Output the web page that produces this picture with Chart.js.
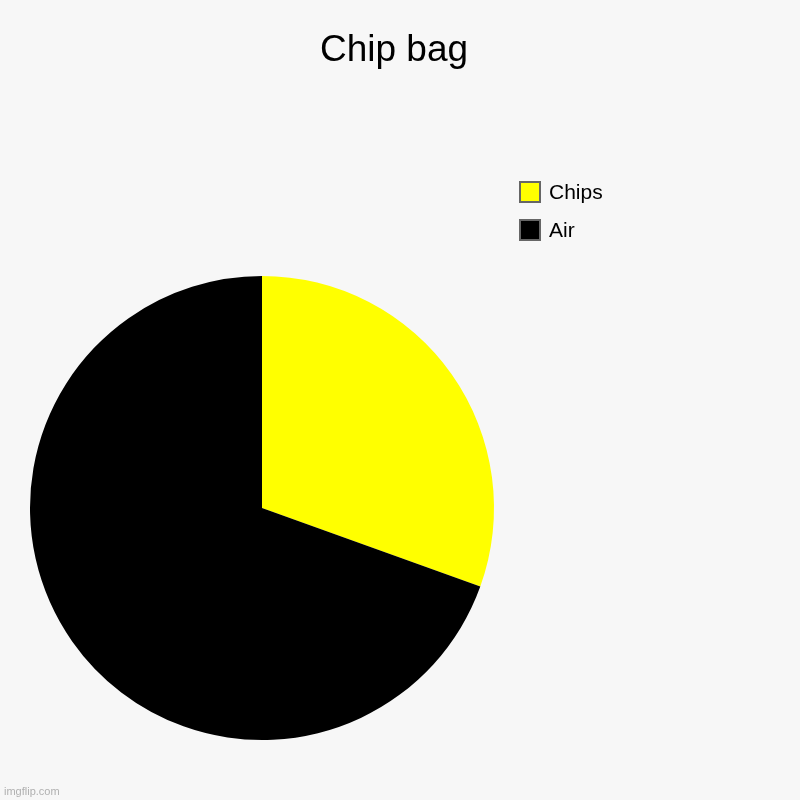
<!DOCTYPE html>
<html>
<head>
<meta charset="utf-8">
<script src="https://cdn.jsdelivr.net/npm/chart.js@4/dist/chart.umd.min.js"></script>
<style>
  html, body { margin: 0; padding: 0; background: #f7f7f7; }
  #wrap { width: 800px; height: 800px; position: relative; }
</style>
</head>
<body>
<div id="wrap"><canvas id="pieCanvas" width="800" height="800"></canvas></div>
<script>
// chart data
var TITLE = 'Chip bag'
var LABELS = ['Chips', 'Air']
var VALUES = [30.5, 69.5]
var COLORS = ['#ffff00', '#000000']

// title, legend and watermark drawn on the same canvas
var decorations = {
  id: 'decorations',
  beforeDraw: function (chart) {
    var ctx = chart.ctx
    ctx.save()
    ctx.fillStyle = '#f7f7f7'
    ctx.fillRect(0, 0, chart.width, chart.height)
    ctx.restore()
  },
  afterDraw: function (chart) {
    var ctx = chart.ctx
    ctx.save()
    ctx.fillStyle = '#000'
    ctx.textAlign = 'center'
    ctx.textBaseline = 'alphabetic'
    ctx.font = '37px "Liberation Sans", Arial, sans-serif'
    ctx.fillText(TITLE, 394, 61)

    ctx.textAlign = 'left'
    ctx.font = '21px "Liberation Sans", Arial, sans-serif'
    var ds = chart.data.datasets[0]
    chart.data.labels.forEach(function (label, i) {
      var y = 182 + i * 38
      ctx.fillStyle = ds.backgroundColor[i]
      ctx.fillRect(520, y, 20, 20)
      ctx.strokeStyle = '#666'
      ctx.lineWidth = 2
      ctx.strokeRect(520, y, 20, 20)
      ctx.fillStyle = '#000'
      ctx.fillText(label, 549, y + 17)
    })

    ctx.fillStyle = '#b0b0b0'
    ctx.font = '11px "Liberation Sans", Arial, sans-serif'
    ctx.fillText('imgflip.com', 4, 795)
    ctx.restore()
  },
}

window.onload = function () {
  var ctx = document.getElementById('pieCanvas').getContext('2d')
  window.myPie = new Chart(ctx, {
    type: 'pie',
    data: {
      labels: LABELS,
      datasets: [
        {
          data: VALUES,
          backgroundColor: COLORS,
          borderWidth: 0,
        },
      ],
    },
    options: {
      responsive: false,
      animation: false,
      layout: {
        padding: { left: 30, right: 306, top: 276, bottom: 60 },
      },
      plugins: {
        legend: { display: false },
        title: { display: false },
        tooltip: { enabled: false },
      },
    },
    plugins: [decorations],
  })
}
</script>
</body>
</html>
